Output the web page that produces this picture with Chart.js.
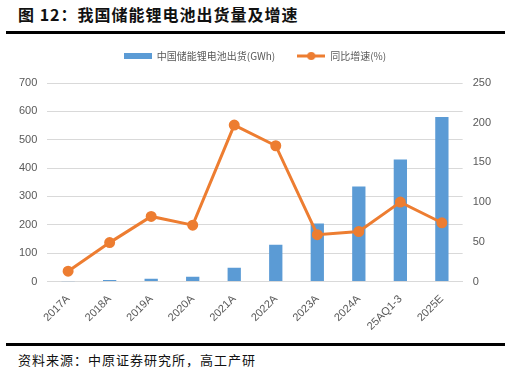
<!DOCTYPE html>
<html>
<head>
<meta charset="utf-8">
<script src="https://cdn.jsdelivr.net/npm/chart.js@4"></script>
<style>
  body { margin: 0; width: 511px; height: 378px; background: #fff; position: relative; overflow: hidden; font-family: "Noto Sans CJK SC", sans-serif; }
  #title { position: absolute; left: 18px; top: 2px; font-size: 16px; font-weight: bold; color: #111; letter-spacing: 1px; }
  #topline { position: absolute; left: 6px; top: 31px; width: 499px; height: 3px; background: #000; }
  #botline { position: absolute; left: 6px; top: 343px; width: 499px; height: 3px; background: #000; }
  #source { position: absolute; left: 18px; top: 350px; font-size: 13px; color: #111; letter-spacing: 1px; }
  #wrap { position: absolute; left: 0; top: 29px; width: 511px; height: 307px; }
</style>
</head>
<body>
<div id="title">图 12：我国储能锂电池出货量及增速</div>
<div id="topline"></div>
<div id="wrap"><canvas id="chart"></canvas></div>
<div id="botline"></div>
<div id="source">资料来源：中原证券研究所，高工产研</div>
<script>
const categories = ['2017A', '2018A', '2019A', '2020A', '2021A', '2022A', '2023A', '2024A', '25AQ1-3', '2025E'];
const shipments = [1, 5, 10, 17, 49, 130, 205, 335, 430, 580];
const growth = [13, 49, 82, 71, 197, 171, 59, 63, 100, 74];

const blue = '#5b9bd5';
const orange = '#ed7d31';

// legend symbols
function barSymbol() {
    const c = document.createElement('canvas');
    c.width = 28; c.height = 6;
    const x = c.getContext('2d');
    x.fillStyle = blue;
    x.fillRect(0, 0, 28, 6);
    return c;
}
function lineSymbol() {
    const c = document.createElement('canvas');
    c.width = 28; c.height = 8;
    const x = c.getContext('2d');
    x.strokeStyle = orange;
    x.lineWidth = 3;
    x.beginPath(); x.moveTo(0, 4); x.lineTo(28, 4); x.stroke();
    x.fillStyle = orange;
    x.beginPath(); x.arc(14, 4, 4, 0, Math.PI * 2); x.fill();
    return c;
}

// extra space under the legend
const legendGap = {
    id: 'legendGap',
    beforeInit(chart) {
        const fit = chart.legend.fit;
        chart.legend.fit = function () {
            fit.bind(chart.legend)();
            this.height += 12;
        };
    }
};

const ctx = document.getElementById('chart').getContext('2d');
new Chart(ctx, {
    data: {
        labels: categories,
        datasets: [
            {
                type: 'bar',
                label: '中国储能锂电池出货(GWh)',
                data: shipments,
                backgroundColor: blue,
                barPercentage: 0.32,
                categoryPercentage: 1,
                yAxisID: 'y',
                order: 2
            },
            {
                type: 'line',
                label: '同比增速(%)',
                data: growth,
                borderColor: orange,
                backgroundColor: orange,
                borderWidth: 3,
                pointRadius: 4,
                pointHoverRadius: 4,
                tension: 0,
                yAxisID: 'y1',
                order: 1
            }
        ]
    },
    options: {
        responsive: true,
        maintainAspectRatio: false,
        animation: false,
        layout: { padding: { left: 9, right: 10, top: 0, bottom: 0 } },
        plugins: {
            legend: {
                display: true,
                position: 'top',
                labels: {
                    usePointStyle: true,
                    pointStyleWidth: 28,
                    color: '#595959',
                    font: { family: 'Noto Sans CJK SC', size: 10 },
                    padding: 22,
                    generateLabels: (chart) => chart.data.datasets.map((ds, i) => ({
                        text: ds.label,
                        fontColor: '#595959',
                        pointStyle: i === 0 ? barSymbol() : lineSymbol(),
                        datasetIndex: i,
                        hidden: false,
                        lineWidth: 0
                    }))
                }
            },
            tooltip: { enabled: false }
        },
        scales: {
            x: {
                grid: { display: false },
                border: { color: '#d9d9d9' },
                ticks: {
                    color: '#595959',
                    font: { family: 'Liberation Sans', size: 11 },
                    maxRotation: 45,
                    minRotation: 45,
                    autoSkip: false
                }
            },
            y: {
                position: 'left',
                min: 0, max: 700,
                ticks: { stepSize: 100, color: '#595959', font: { family: 'Liberation Sans', size: 11 }, padding: 10 },
                grid: { color: '#d9d9d9', drawTicks: false },
                border: { display: false }
            },
            y1: {
                position: 'right',
                min: 0, max: 250,
                ticks: { stepSize: 50, color: '#595959', font: { family: 'Liberation Sans', size: 11 }, padding: 10 },
                grid: { display: false, drawTicks: false },
                border: { display: false }
            }
        }
    },
    plugins: [legendGap]
});
</script>
</body>
</html>
